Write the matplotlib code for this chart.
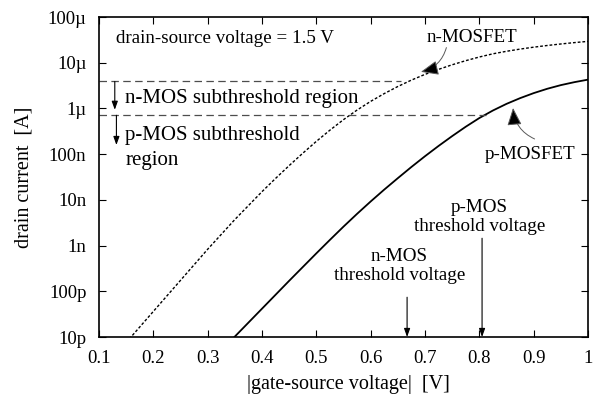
import numpy as np
import matplotlib
matplotlib.use('Agg')
import matplotlib.pyplot as plt
from matplotlib.ticker import FixedLocator, NullLocator

plt.rcParams['font.family'] = ['Liberation Serif', 'DejaVu Serif']

# n-MOSFET: gate-source voltage [V] and drain current as log10(I / A)
nmos_vgs = [0.15, 0.20, 0.25, 0.30, 0.35, 0.40, 0.425, 0.45, 0.475, 0.50,
            0.525, 0.55, 0.575, 0.60, 0.625, 0.65, 0.675, 0.70, 0.725, 0.75,
            0.775, 0.80, 0.825, 0.85, 0.875, 0.90, 0.925, 0.95, 0.975, 1.00]
nmos_log_i = [-11.12, -10.44, -9.76, -9.08, -8.43, -7.82, -7.53, -7.25, -6.98, -6.72,
              -6.475, -6.245, -6.035, -5.845, -5.675, -5.52, -5.38, -5.255, -5.145, -5.045,
              -4.955, -4.875, -4.805, -4.75, -4.702, -4.66, -4.623, -4.59, -4.56, -4.533]
# p-MOSFET
pmos_vgs = [0.25, 0.30, 0.35, 0.40, 0.45, 0.475, 0.50, 0.525, 0.55, 0.575,
            0.60, 0.625, 0.65, 0.675, 0.70, 0.725, 0.75, 0.775, 0.80, 0.825,
            0.85, 0.875, 0.90, 0.925, 0.95, 0.975, 1.00]
pmos_log_i = [-12.20, -11.60, -10.99, -10.38, -9.77, -9.47, -9.17, -8.875, -8.585, -8.305,
              -8.035, -7.775, -7.525, -7.28, -7.045, -6.82, -6.605, -6.40, -6.21, -6.045,
              -5.90, -5.775, -5.665, -5.57, -5.49, -5.425, -5.37]

y_ticks = [1e-11, 1e-10, 1e-9, 1e-8, 1e-7, 1e-6, 1e-5, 1e-4]
y_tick_labels = ['10p', '100p', '1n', '10n', '100n', '1\u00b5', '10\u00b5', '100\u00b5']
x_ticks = [0.1, 0.2, 0.3, 0.4, 0.5, 0.6, 0.7, 0.8, 0.9, 1.0]
x_tick_labels = ['0.1', '0.2', '0.3', '0.4', '0.5', '0.6', '0.7', '0.8', '0.9', '1']

# subthreshold limits (horizontal dashed lines) and threshold voltages
nmos_sub_level = 10 ** -5.41
pmos_sub_level = 10 ** -6.15
nmos_sub_end = 0.656
pmos_sub_end = 0.812
nmos_vth = 0.667
pmos_vth = 0.805

fig = plt.figure(figsize=(5.98, 4.01), dpi=100)
ax = fig.add_axes([0.1656, 0.1596, 0.8177, 0.798])

ax.plot(nmos_vgs, 10 ** np.array(nmos_log_i), color='black', lw=1.0, ls=(0, (2.0, 1.4)))
ax.plot(pmos_vgs, 10 ** np.array(pmos_log_i), color='black', lw=1.3)

ax.set_yscale('log')
ax.set_xlim(0.1, 1.0)
ax.set_ylim(1e-11, 1e-4)
ax.yaxis.set_major_locator(FixedLocator(y_ticks))
ax.yaxis.set_minor_locator(NullLocator())
ax.set_yticklabels(y_tick_labels)
ax.set_xticks(x_ticks)
ax.set_xticklabels(x_tick_labels)
ax.tick_params(direction='in', length=5, width=0.8, top=True, right=True,
               labelsize=13.5)
ax.tick_params(axis='x', pad=9)
ax.tick_params(axis='y', pad=9)
for s in ax.spines.values():
    s.set_linewidth(1.2)

ax.set_xlabel('|gate-source voltage|  [V]', fontsize=14.5)
ax.xaxis.set_label_coords(0.511, -0.118)
ax.xaxis.label.set_va('top')
ax.set_ylabel('drain current  [A]', fontsize=14.5)
ax.yaxis.set_label_coords(-0.133, 0.5)

# dashed subthreshold boundaries
dash = (0, (6, 3.5))
ax.plot([0.1, nmos_sub_end], [nmos_sub_level, nmos_sub_level], color='0.3', lw=0.9, ls=dash)
ax.plot([0.1, pmos_sub_end], [pmos_sub_level, pmos_sub_level], color='0.3', lw=0.9, ls=dash)

small_arrow = dict(arrowstyle='-|>,head_length=0.5,head_width=0.18', color='black',
                   lw=0.8, mutation_scale=10, shrinkA=0, shrinkB=0)
ax.annotate('', xy=(0.129, 10 ** -6.03), xytext=(0.129, nmos_sub_level), arrowprops=small_arrow)
ax.annotate('', xy=(0.132, 10 ** -6.80), xytext=(0.132, pmos_sub_level), arrowprops=small_arrow)

ax.text(0.148, 10 ** -5.78, 'n-MOS subthreshold region', fontsize=15, va='center', ha='left')
ax.text(0.148, 10 ** -6.60, 'p-MOS subthreshold', fontsize=15, va='center', ha='left')
ax.text(0.148, 10 ** -7.13, 'region', fontsize=15, va='center', ha='left')
ax.text(0.132, 10 ** -4.46, 'drain-source voltage = 1.5 V', fontsize=13.7, va='center', ha='left')

# curve labels with curved pointers
curve_arrow = dict(arrowstyle='-|>,head_length=0.6,head_width=0.25', fc='black', ec='0.35',
                   lw=0.7, mutation_scale=18, shrinkA=1, shrinkB=0,
                   connectionstyle='arc3,rad=-0.3')
ax.text(0.786, 10 ** -4.44, 'n-MOSFET', fontsize=13.7, va='center', ha='center')
ax.annotate('', xy=(0.6925, 10 ** -5.20), xytext=(0.740, 10 ** -4.64), arrowprops=curve_arrow)
ax.text(0.894, 10 ** -7.00, 'p-MOSFET', fontsize=13.7, va='center', ha='center')
ax.annotate('', xy=(0.862, 10 ** -5.99), xytext=(0.904, 10 ** -6.68), arrowprops=curve_arrow)

# threshold voltage markers
ax.annotate('', xy=(nmos_vth, 1e-11), xytext=(nmos_vth, 10 ** -10.13), arrowprops=small_arrow)
ax.annotate('', xy=(pmos_vth, 1e-11), xytext=(pmos_vth, 10 ** -8.84), arrowprops=small_arrow)
ax.text(0.653, 10 ** -9.45, 'n-MOS\nthreshold voltage', fontsize=13.7, ha='center', va='center',
        linespacing=1.15)
ax.text(0.800, 10 ** -8.38, 'p-MOS\nthreshold voltage', fontsize=13.7, ha='center', va='center',
        linespacing=1.15)

fig.savefig('out.png', dpi=100)
